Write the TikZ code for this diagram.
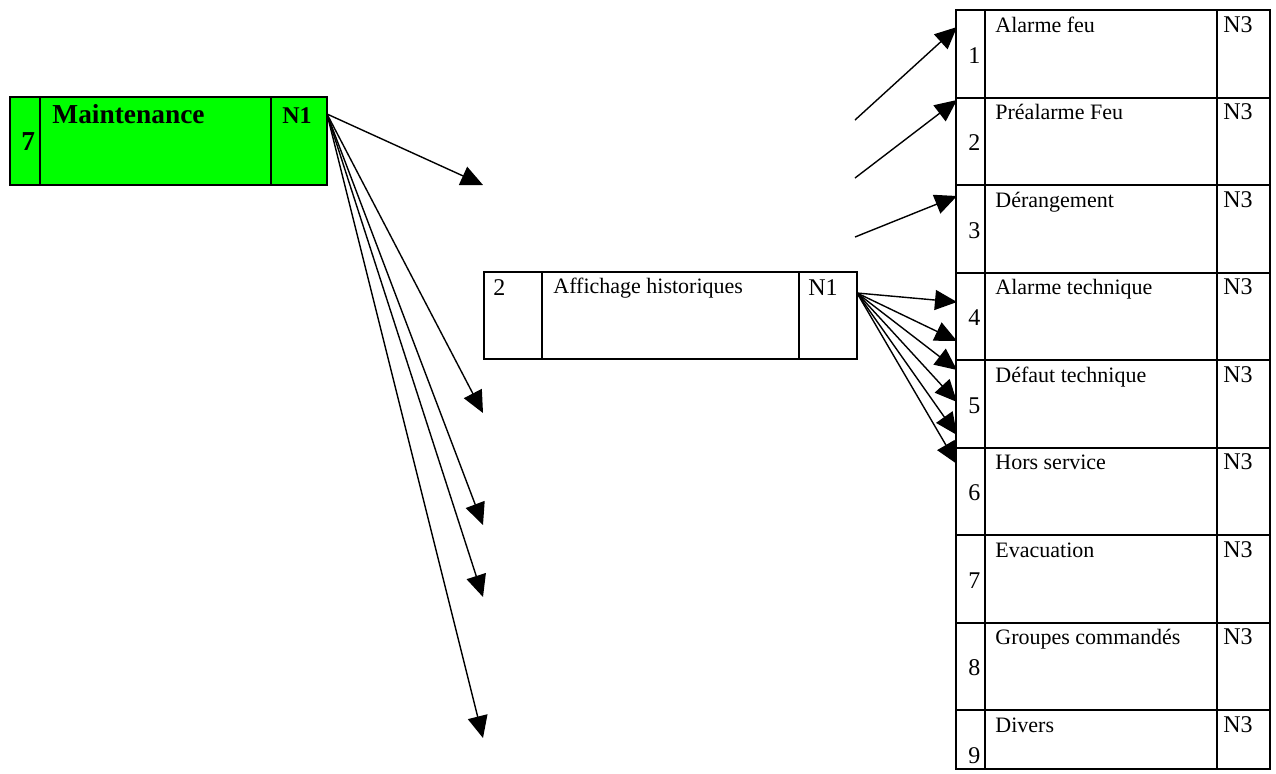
\documentclass[tikz,border=0pt]{standalone}
\usepackage{fontspec}
\setmainfont{Liberation Serif}
\usetikzlibrary{arrows.meta}
\definecolor{maintgreen}{RGB}{0,255,0}

\begin{document}
\begin{tikzpicture}[x=0.5pt, y=-0.5pt,
    cell/.style={draw, line width=1pt},
    tip/.style={-{Triangle[length=11pt,width=10pt]}, line width=0.7pt},
    txt/.style={inner sep=0pt, anchor=base west, font=\fontsize{11}{13}\selectfont},
    numtxt/.style={inner sep=0pt, anchor=base west, font=\fontsize{12}{14}\selectfont},
    boldtxt/.style={inner sep=0pt, anchor=base west, font=\fontsize{13.7}{16}\selectfont\bfseries}]
  \useasboundingbox (0,0) rectangle (1276,773);

  % Maintenance box
  \filldraw[cell, fill=maintgreen] (10,97) rectangle (327,185);
  \draw[cell] (40,97) -- (40,185) (271,97) -- (271,185);
  \node[boldtxt] (mnum) at (21,150) {7};
  \node[boldtxt] (mname) at (52,123) {Maintenance};
  \node[boldtxt, font=\fontsize{12}{14}\selectfont\bfseries] (mlevel) at (282,123) {N1};
  \coordinate (mout) at (327,114);

  % Affichage historiques box
  \draw[cell] (484,272) rectangle (857,359);
  \draw[cell] (542,272) -- (542,359) (799,272) -- (799,359);
  \node[numtxt] (hnum) at (493,295) {2};
  \node[txt] (hname) at (553,293) {Affichage historiques};
  \node[numtxt] (hlevel) at (808,295) {N1};
  \coordinate (hout) at (857,293);

  % right column
  \draw[cell] (956,10) rectangle (1270,769);
  \draw[cell] (985,10) -- (985,769) (1217,10) -- (1217,769);
  \foreach \t [count=\i] in {Alarme feu, Préalarme Feu, Dérangement,
      Alarme technique, Défaut technique, Hors service, Evacuation,
      Groupes commandés, Divers} {
    \pgfmathsetmacro\rowtop{10+(\i-1)*87.5}
    \ifnum\i>1 \draw[cell] (956,\rowtop) -- (1270,\rowtop); \fi
    \node[numtxt] (rnum\i) at (968,\rowtop+53) {\i};
    \node[txt] (rname\i) at (995,\rowtop+22) {\t};
    \node[numtxt] (rlevel\i) at (1223,\rowtop+22) {N3};
  }

  % arrows out of Maintenance
  \foreach \y [count=\k] in {185,413,525,597,738} {
    \coordinate (mt\k) at (483,\y);
    \draw[tip] (mout) -- (mt\k);
  }

  % loose arrows to the first three rows
  \foreach \ys/\ye [count=\k] in {120/27, 178/100, 237/196} {
    \coordinate (ls\k) at (855,\ys);
    \coordinate (le\k) at (957,\ye);
    \draw[tip] (ls\k) -- (le\k);
  }

  % arrows out of Affichage historiques
  \foreach \y [count=\k] in {302,341,370,402,435,464} {
    \coordinate (ht\k) at (957,\y);
    \draw[tip] (hout) -- (ht\k);
  }
\end{tikzpicture}
\end{document}
